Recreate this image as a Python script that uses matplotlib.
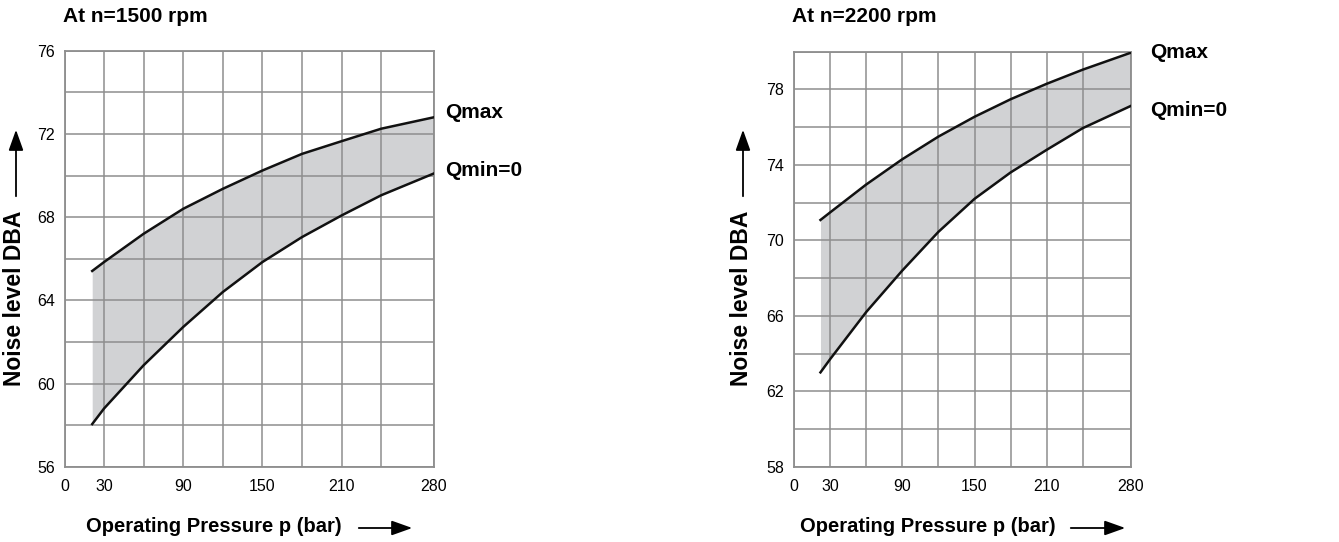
import matplotlib
matplotlib.use("Agg")
import matplotlib.pyplot as plt
import numpy as np

plt.rcParams['font.family'] = ['Liberation Sans', 'DejaVu Sans']

# pressure points (bar) and noise levels (dBA)
p_1500 = [21, 30, 60, 90, 120, 150, 180, 210, 240, 280]
qmax_1500 = [65.41, 65.84, 67.2, 68.4, 69.36, 70.24, 71.04, 71.65, 72.25, 72.8]
qmin_1500 = [58.05, 58.8, 60.88, 62.72, 64.4, 65.84, 67.04, 68.08, 69.05, 70.1]

p_2200 = [22, 30, 60, 90, 120, 150, 180, 210, 240, 280]
qmax_2200 = [71.08, 71.48, 72.96, 74.3, 75.5, 76.55, 77.48, 78.3, 79.05, 79.95]
qmin_2200 = [63.0, 63.7, 66.2, 68.4, 70.45, 72.2, 73.6, 74.8, 75.95, 77.13]

xticks = [0, 30, 90, 150, 210, 280]
xgrid = [0, 30, 60, 90, 120, 150, 180, 210, 240, 280]

W, H = 1339, 542
fig = plt.figure(figsize=(W / 100, H / 100), dpi=100)
fig.patch.set_facecolor("white")


def fx(x):
    return x / W


def fy(y):
    return 1 - y / H


grid_col = "#8e8e8e"
fill_col = "#d1d2d4"


def panel(rect, p, qmax, qmin, ylim, yticks, title, tx, lab_x, qmax_y, qmin_y, ylab_x, xlab_cx, xarrow):
    l, t, r, b = rect
    ax = fig.add_axes([fx(l), fy(b), fx(r - l), (b - t) / H])
    ax.set_xlim(0, 280)
    ax.set_ylim(*ylim)
    ax.fill_between(p, qmin, qmax, color=fill_col, lw=0, zorder=1)
    ax.plot(p, qmax, color="#111111", lw=1.8, zorder=3)
    ax.plot(p, qmin, color="#111111", lw=1.8, zorder=3)
    ax.set_xticks(xticks)
    ax.set_xticks(xgrid, minor=True)
    ax.set_yticks(yticks)
    ax.set_yticks(np.arange(ylim[0], ylim[1] + 0.1, 2), minor=True)
    ax.tick_params(which="both", length=0, labelsize=11.5)
    ax.tick_params(axis="x", pad=9)
    ax.tick_params(axis="y", pad=7)
    ax.grid(which="both", color=grid_col, lw=1.1, zorder=2)
    ax.set_axisbelow(False)
    for s in ax.spines.values():
        s.set_color(grid_col)
        s.set_linewidth(1.3)
    fig.text(fx(tx), fy(17), title, fontsize=15, fontweight="bold", va="center", ha="left")
    fig.text(fx(lab_x), fy(qmax_y), "Qmax", fontsize=15, fontweight="bold", va="center", ha="left")
    fig.text(fx(lab_x), fy(qmin_y), "Qmin=0", fontsize=15, fontweight="bold", va="center", ha="left")
    fig.text(fx(ylab_x), fy(298), "Noise level DBA", fontsize=16.5, fontweight="bold",
             rotation=90, va="center", ha="center")
    fig.text(fx(xlab_cx), fy(527), "Operating Pressure p (bar)", fontsize=14.5, fontweight="bold",
             va="center", ha="center")
    fig.add_artist(matplotlib.patches.FancyArrowPatch(
        (fx(ylab_x + 1), fy(199)), (fx(ylab_x + 1), fy(127)), transform=fig.transFigure,
        arrowstyle="-|>,head_length=0.7,head_width=0.25", mutation_scale=18, lw=1.3, color="black"))
    fig.add_artist(matplotlib.patches.FancyArrowPatch(
        (fx(xarrow[0]), fy(528)), (fx(xarrow[1]), fy(528)), transform=fig.transFigure,
        arrowstyle="-|>,head_length=0.7,head_width=0.25", mutation_scale=18, lw=1.3, color="black"))
    return ax


panel((64.5, 50.7, 434, 466.7), p_1500, qmax_1500, qmin_1500, (56, 76), [56, 60, 64, 68, 72, 76],
      "At n=1500 rpm", 63, 445, 113, 170, 15, 214, (356, 415))
panel((794, 51.7, 1131, 466.7), p_2200, qmax_2200, qmin_2200, (58, 80), [58, 62, 66, 70, 74, 78],
      "At n=2200 rpm", 792, 1150, 52, 110, 742, 928, (1068, 1128))

fig.savefig("out.png", dpi=100)
